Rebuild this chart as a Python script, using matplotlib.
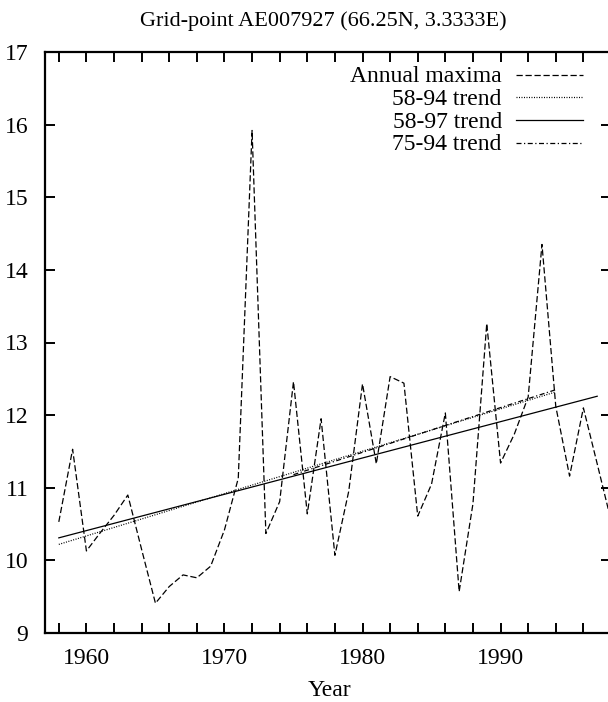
import numpy as np
import matplotlib
matplotlib.use("Agg")
from matplotlib import pyplot as plt
from matplotlib.lines import Line2D

plt.rcParams['font.family'] = ['Liberation Serif', 'DejaVu Serif']

years = np.arange(1958, 1999)
annual_max = [10.53, 11.53, 10.13, 10.38, 10.62, 10.90, 10.15, 9.41, 9.64, 9.80,
              9.76, 9.92, 10.42, 11.13, 15.92, 10.37, 10.81, 12.46, 10.64, 11.95,
              10.07, 10.95, 12.43, 11.33, 12.53, 12.44, 10.61, 11.05, 12.03, 9.57,
              10.78, 13.26, 11.34, 11.74, 12.25, 14.35, 12.12, 11.16, 12.10, 11.33,
              10.55]

trend_58_94_x = [1958, 1994]
trend_58_94_y = [10.22, 12.32]
trend_58_97_x = [1958, 1997]
trend_58_97_y = [10.31, 12.26]
trend_75_94_x = [1975, 1994]
trend_75_94_y = [11.18, 12.35]

labels = ["Annual maxima", "58-94 trend", "58-97 trend", "75-94 trend"]
title = "Grid-point AE007927 (66.25N, 3.3333E)"

fig = plt.figure(figsize=(6.08, 7.02), dpi=100)
ax = fig.add_axes([45/608, 1 - 633/702, 566/608, 581/702])

styles = [dict(dashes=(5, 2.2), lw=0.9),
          dict(dashes=(0.8, 1.2), lw=0.9),
          dict(lw=0.9),
          dict(dashes=(4, 2, 1, 2), lw=0.9)]

ax.plot(years, annual_max, color='black', **styles[0])
ax.plot(trend_58_94_x, trend_58_94_y, color='black', **styles[1])
ax.plot(trend_58_97_x, trend_58_97_y, color='black', **styles[2])
ax.plot(trend_75_94_x, trend_75_94_y, color='black', **styles[3])

ax.set_xlim(1957, 1998)
ax.set_ylim(9, 17)
ax.set_xticks(np.arange(1958, 1999, 2))
ax.set_xticklabels([str(y) if y % 10 == 0 else '' for y in range(1958, 1999, 2)])
ax.set_yticks(np.arange(9, 18))
ax.tick_params(direction='in', length=7, width=1.4, top=True, right=True,
               labelsize=17)
ax.tick_params(axis='x', pad=11)
ax.tick_params(axis='y', pad=12)
for s in ax.spines.values():
    s.set_linewidth(1.6)

# legend drawn by hand so the labels sit right-aligned like gnuplot
rows = [0.958, 0.919, 0.8795, 0.840]
for lab, st, yy in zip(labels, styles, rows):
    ax.text(0.807, yy, lab, transform=ax.transAxes, ha='right', va='center',
            fontsize=17)
    ax.add_line(Line2D([0.832, 0.951], [yy + 0.003, yy + 0.003],
                       transform=ax.transAxes, color='black', **st))

fig.text(323/608, 1 - 21/702, title, ha='center', va='center', fontsize=16)
fig.text(329/608, 1 - 690/702, "Year", ha='center', va='center', fontsize=17)

fig.savefig("out.png", dpi=100)
